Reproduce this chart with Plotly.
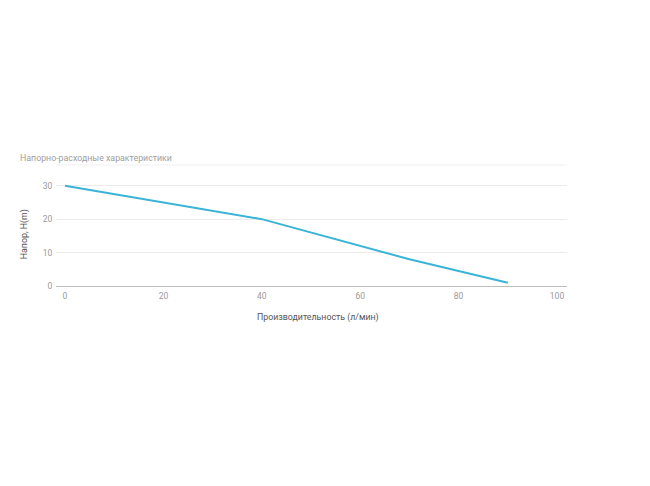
import plotly.graph_objects as go

flow = [0, 40, 70, 90]
head = [30, 20, 8, 1]
x_ticks = [0, 20, 40, 60, 80, 100]
y_ticks = [0, 10, 20, 30]
title_text = "Напорно-расходные характеристики"
x_title = "Производительность (л/мин)"
y_title = "Напор, H(m)"

FONT = "Roboto, Arial, sans-serif"

fig = go.Figure()
fig.add_trace(go.Scatter(
    x=flow, y=head, mode="lines",
    line=dict(color="#3ab4d6", width=2),
    hoverinfo="x+y", showlegend=False,
))

fig.update_layout(
    width=650, height=486,
    margin=dict(l=56, r=83, t=165, b=200, pad=0),
    paper_bgcolor="white", plot_bgcolor="white",
    font=dict(family=FONT, size=8.5, color="#999999"),
    xaxis=dict(
        range=[-1.83, 102.03], tickvals=x_ticks, ticktext=[str(v) for v in x_ticks],
        showgrid=False, zeroline=False, showline=False,
        ticks="outside", ticklen=2, tickcolor="rgba(0,0,0,0)",
        tickfont=dict(size=8.5, color="#9a9a9a"),
        fixedrange=True,
    ),
    yaxis=dict(
        range=[0, 36.2], tickvals=y_ticks, ticktext=[str(v) for v in y_ticks],
        showgrid=True, gridcolor="#ebebeb", gridwidth=1,
        zeroline=True, zerolinecolor="#bdbdbd", zerolinewidth=1,
        showline=False, ticks="outside", ticklen=1, tickcolor="rgba(0,0,0,0)",
        tickfont=dict(size=8.5, color="#9a9a9a"),
        fixedrange=True,
    ),
    annotations=[
        dict(text=title_text, xref="paper", yref="paper", x=-0.0734, y=1.0,
             xanchor="left", yanchor="bottom", yshift=0, showarrow=False,
             font=dict(size=8.8, color="#a0a0a0", family=FONT)),
        dict(text=x_title, xref="x", yref="paper", x=51.5, y=0,
             xanchor="center", yanchor="middle", yshift=-31.5, showarrow=False,
             font=dict(size=8.8, color="#555555", family=FONT)),
        dict(text=y_title, xref="paper", yref="y", x=0, y=15.5,
             xanchor="center", yanchor="middle", xshift=-32, textangle=-90,
             showarrow=False, font=dict(size=8.8, color="#555555", family=FONT)),
    ],
    shapes=[dict(
        type="line", xref="paper", yref="paper", x0=0, x1=1, y0=1, y1=1,
        line=dict(color="#f0f0f0", width=1), layer="below",
    )],
)

fig.write_html("out.html", config={"displayModeBar": False})
